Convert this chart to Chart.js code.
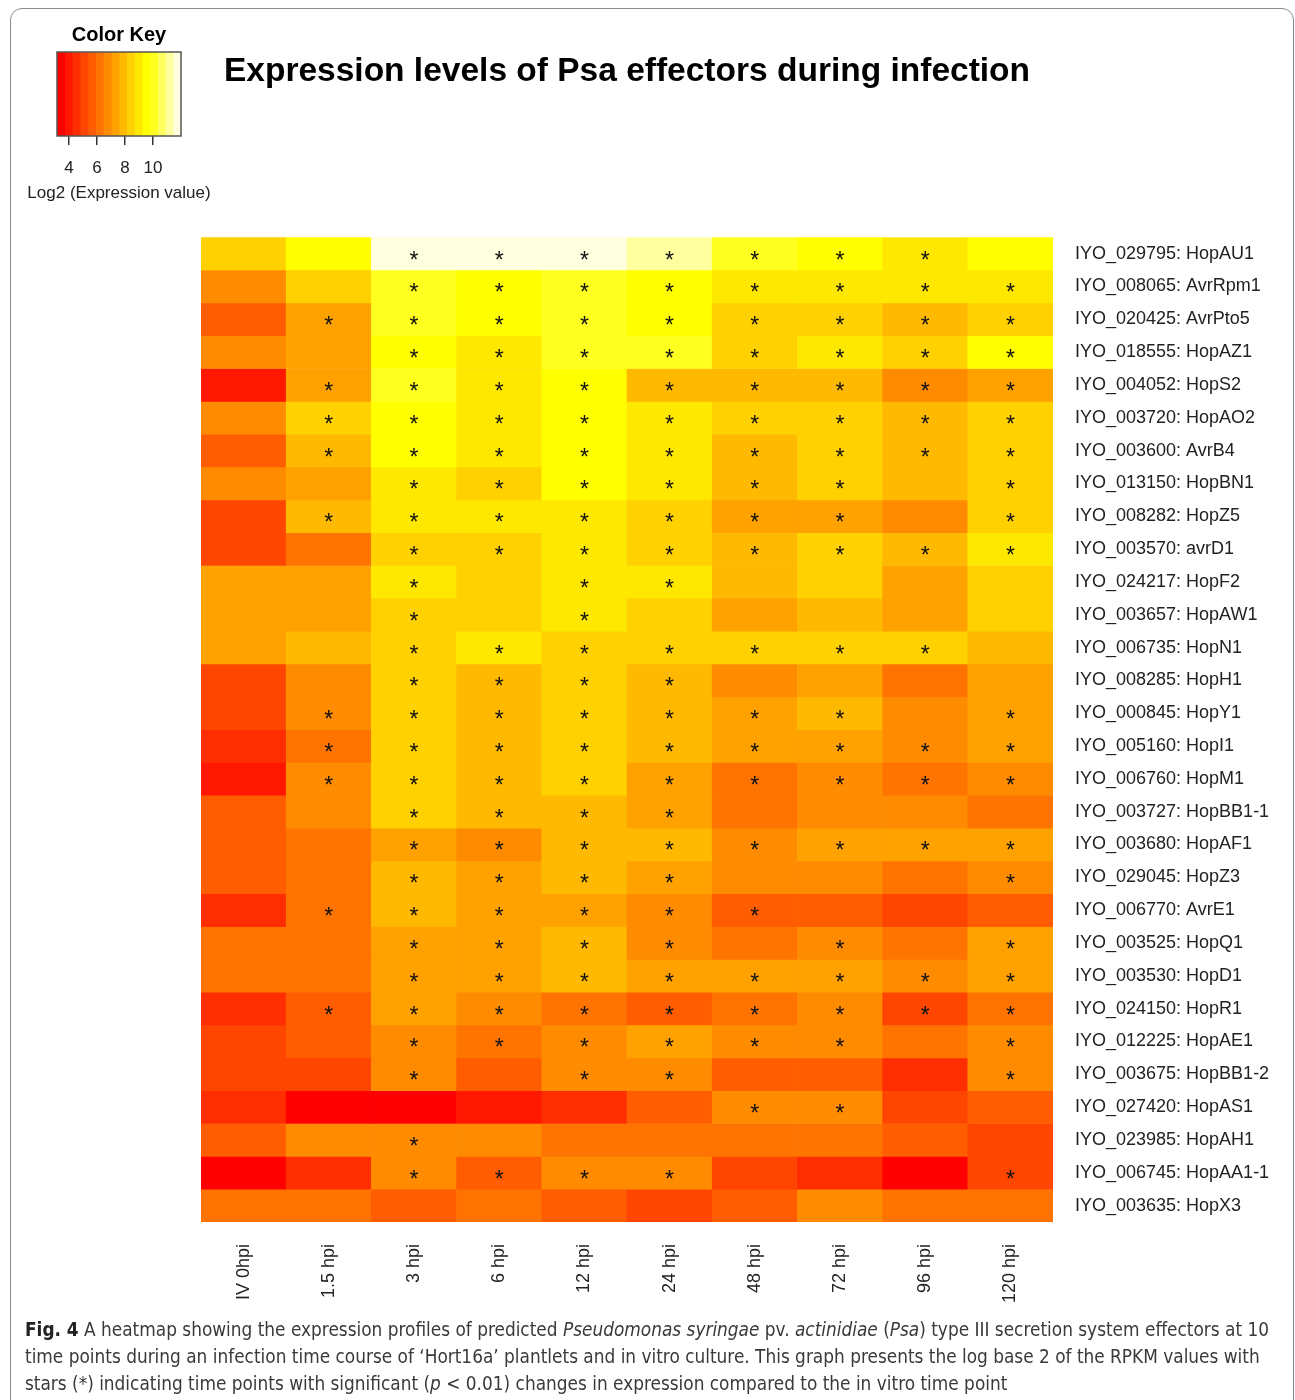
<!DOCTYPE html>
<html>
<head>
<meta charset="utf-8">
<title>Expression levels of Psa effectors during infection</title>
<script src="https://cdn.jsdelivr.net/npm/chart.js@4.4.1/dist/chart.umd.min.js"></script>
<style>
  html, body { margin: 0; padding: 0; background: #fff; }
  body { width: 1295px; height: 1400px; position: relative; overflow: hidden; }
  #frame { position: absolute; left: 10px; top: 8px; width: 1284px; height: 1440px;
           border: 1.5px solid #8c8c8c; border-radius: 12px; box-sizing: border-box; }
  #main { position: absolute; left: 0; top: 0; }
  #key { position: absolute; left: 0; top: 15px; }
  #caption { position: absolute; left: 25px; top: 1316px; color: #3a3a3a;
             font-family: "Liberation Sans Narrow", "DejaVu Sans Condensed", "Open Sans", sans-serif;
             font-size: 19px; line-height: 27px; white-space: nowrap; }
  #caption .line { display: block; transform-origin: 0 50%; }
  #caption b { font-weight: bold; color: #222; }
</style>
</head>
<body>
<div id="frame"></div>
<canvas id="main" width="1295" height="1320"></canvas>
<canvas id="key" width="238" height="200"></canvas>
<div id="caption">
  <span class="line"><b>Fig. 4</b> A heatmap showing the expression profiles of predicted <i>Pseudomonas syringae</i> pv. <i>actinidiae</i> (<i>Psa</i>) type III secretion system effectors at 10</span>
  <span class="line">time points during an infection time course of ‘Hort16a’ plantlets and in vitro culture. This graph presents the log base 2 of the RPKM values with</span>
  <span class="line">stars (*) indicating time points with significant (<i>p</i> &lt; 0.01) changes in expression compared to the in vitro time point</span>
</div>
<script>
// Sampling time points (columns)
const timeLabels = ['IV 0hpi', '1.5 hpi', '3 hpi', '6 hpi', '12 hpi', '24 hpi', '48 hpi', '72 hpi', '96 hpi', '120 hpi'];

// Effector genes (rows, top to bottom)
const effectorLabels = [
  'IYO_029795: HopAU1', 'IYO_008065: AvrRpm1', 'IYO_020425: AvrPto5', 'IYO_018555: HopAZ1',
  'IYO_004052: HopS2', 'IYO_003720: HopAO2', 'IYO_003600: AvrB4', 'IYO_013150: HopBN1',
  'IYO_008282: HopZ5', 'IYO_003570: avrD1', 'IYO_024217: HopF2', 'IYO_003657: HopAW1',
  'IYO_006735: HopN1', 'IYO_008285: HopH1', 'IYO_000845: HopY1', 'IYO_005160: HopI1',
  'IYO_006760: HopM1', 'IYO_003727: HopBB1-1', 'IYO_003680: HopAF1', 'IYO_029045: HopZ3',
  'IYO_006770: AvrE1', 'IYO_003525: HopQ1', 'IYO_003530: HopD1', 'IYO_024150: HopR1',
  'IYO_012225: HopAE1', 'IYO_003675: HopBB1-2', 'IYO_027420: HopAS1', 'IYO_023985: HopAH1',
  'IYO_006745: HopAA1-1', 'IYO_003635: HopX3'
];

// log2(RPKM) per effector, one value per time point
const log2Expr = [
  [8.4, 9.5, 11.7, 11.7, 11.7, 11.2, 10.1, 9.5, 9.0, 9.5],
  [6.7, 8.4, 10.1, 9.5, 10.1, 9.5, 9.0, 9.0, 9.0, 9.0],
  [5.6, 7.3, 10.1, 9.5, 10.1, 9.5, 8.4, 8.4, 7.9, 8.4],
  [6.7, 7.3, 9.5, 9.0, 10.1, 10.1, 8.4, 9.0, 8.4, 9.5],
  [4.0, 7.3, 10.1, 9.0, 9.5, 7.9, 7.9, 7.9, 6.7, 7.3],
  [6.7, 8.4, 9.5, 9.0, 9.5, 9.0, 8.4, 8.4, 7.9, 8.4],
  [5.6, 7.9, 9.5, 9.0, 9.5, 9.0, 7.9, 8.4, 7.9, 8.4],
  [6.7, 7.3, 9.0, 8.4, 9.5, 9.0, 7.9, 8.4, 7.9, 8.4],
  [5.1, 7.9, 9.0, 9.0, 9.0, 8.4, 7.3, 7.3, 6.7, 8.4],
  [5.1, 6.2, 8.4, 8.4, 9.0, 8.4, 7.9, 8.4, 7.9, 9.0],
  [7.3, 7.3, 9.0, 8.4, 9.0, 9.0, 7.9, 8.4, 7.3, 8.4],
  [7.3, 7.3, 8.4, 8.4, 9.0, 8.4, 7.3, 7.9, 7.3, 8.4],
  [7.3, 7.9, 8.4, 9.0, 8.4, 8.4, 8.4, 8.4, 8.4, 7.9],
  [5.1, 6.7, 8.4, 7.9, 8.4, 7.9, 6.7, 7.3, 6.2, 7.3],
  [5.1, 6.7, 8.4, 7.9, 8.4, 7.9, 7.3, 7.9, 6.7, 7.3],
  [4.5, 6.2, 8.4, 7.9, 8.4, 7.9, 7.3, 7.3, 6.7, 7.3],
  [4.0, 6.7, 8.4, 7.9, 8.4, 7.3, 6.2, 6.7, 6.2, 6.7],
  [5.6, 6.7, 8.4, 7.9, 7.9, 7.3, 6.2, 6.7, 6.7, 6.2],
  [5.6, 6.2, 7.3, 6.7, 7.9, 7.9, 6.7, 7.3, 7.3, 7.3],
  [5.6, 6.2, 7.9, 7.3, 7.9, 7.3, 6.7, 6.7, 6.2, 6.7],
  [4.5, 6.2, 7.9, 7.3, 7.3, 6.7, 5.6, 5.6, 5.1, 5.6],
  [6.2, 6.2, 7.3, 7.3, 7.9, 6.7, 6.2, 6.7, 6.2, 7.3],
  [6.2, 6.2, 7.3, 7.3, 7.9, 7.3, 7.3, 7.3, 6.7, 7.3],
  [4.5, 5.6, 7.3, 6.7, 6.2, 5.6, 6.2, 6.7, 5.1, 6.2],
  [5.1, 5.6, 6.7, 6.2, 6.7, 7.3, 6.7, 6.7, 6.2, 6.7],
  [5.1, 5.1, 6.7, 5.6, 6.7, 6.7, 5.6, 5.6, 4.5, 6.7],
  [4.5, 3.4, 3.4, 4.0, 4.5, 5.6, 6.7, 6.7, 5.1, 5.6],
  [5.6, 6.7, 6.7, 6.7, 6.2, 6.2, 6.2, 6.2, 5.6, 5.1],
  [3.4, 4.5, 6.7, 5.6, 6.7, 6.7, 5.1, 4.5, 3.4, 5.1],
  [6.2, 6.2, 5.6, 6.2, 5.6, 5.1, 5.6, 6.7, 6.2, 6.2]
];

// Time-point indices with a significant change (p < 0.01) versus the in vitro sample
const significant = [
  [2, 3, 4, 5, 6, 7, 8],
  [2, 3, 4, 5, 6, 7, 8, 9],
  [1, 2, 3, 4, 5, 6, 7, 8, 9],
  [2, 3, 4, 5, 6, 7, 8, 9],
  [1, 2, 3, 4, 5, 6, 7, 8, 9],
  [1, 2, 3, 4, 5, 6, 7, 8, 9],
  [1, 2, 3, 4, 5, 6, 7, 8, 9],
  [2, 3, 4, 5, 6, 7, 9],
  [1, 2, 3, 4, 5, 6, 7, 9],
  [2, 3, 4, 5, 6, 7, 8, 9],
  [2, 4, 5],
  [2, 4],
  [2, 3, 4, 5, 6, 7, 8],
  [2, 3, 4, 5],
  [1, 2, 3, 4, 5, 6, 7, 9],
  [1, 2, 3, 4, 5, 6, 7, 8, 9],
  [1, 2, 3, 4, 5, 6, 7, 8, 9],
  [2, 3, 4, 5],
  [2, 3, 4, 5, 6, 7, 8, 9],
  [2, 3, 4, 5, 9],
  [1, 2, 3, 4, 5, 6],
  [2, 3, 4, 5, 7, 9],
  [2, 3, 4, 5, 6, 7, 8, 9],
  [1, 2, 3, 4, 5, 6, 7, 8, 9],
  [2, 3, 4, 5, 6, 7, 9],
  [2, 4, 5, 9],
  [6, 7],
  [2],
  [2, 3, 4, 5, 9],
  []
];

// Colour key range and tick labels
const keyMin = 3.14;
const keyMax = 12.0;
const keyTicks = [4, 6, 8, 10];
const keyTitle = 'Log2 (Expression value)';
const nColors = 16;

const FONT = '"Liberation Sans", Arial, Helvetica, sans-serif';

// R-style heat.colors(n): red -> yellow hues, then pale yellows
function hsvToRgb(h, s, v) {
  const c = v * s, hp = h / 60, x = c * (1 - Math.abs(hp % 2 - 1)), m = v - c;
  let r = 0, g = 0, b = 0;
  if (hp < 1) { r = c; g = x; } else { r = x; g = c; }
  const f = t => Math.round((t + m) * 255);
  return `rgb(${f(r)},${f(g)},${f(b)})`;
}
function heatColors(n) {
  const j = Math.floor(n / 4), i = n - j, out = [];
  for (let k = 0; k < i; k++) out.push(hsvToRgb(60 * k / (i - 1), 1, 1));
  const s0 = 1 - 1 / (2 * j), s1 = 1 / (2 * j);
  for (let k = 0; k < j; k++) out.push(hsvToRgb(60, j === 1 ? s0 : s0 + (s1 - s0) * k / (j - 1), 1));
  return out;
}
const palette = heatColors(nColors);
const keyBreaks = Array.from({ length: nColors + 1 }, (_, i) => keyMin + i * (keyMax - keyMin) / nColors);
function colorFor(v) {
  let k = Math.floor((v - keyMin) / (keyMax - keyMin) * nColors);
  k = Math.max(0, Math.min(nColors - 1, k));
  return palette[k];
}

// ---- heatmap: one stacked bar series per effector row ----
const heatDatasets = effectorLabels.map((name, r) => ({
  label: name,
  data: timeLabels.map(() => 1),
  backgroundColor: log2Expr[r].map(colorFor),
  borderWidth: 0,
  barPercentage: 1,
  categoryPercentage: 1
}));

const starPlugin = {
  id: 'sigStars',
  afterDatasetsDraw(chart) {
    const { ctx, scales: { x, y } } = chart;
    ctx.save();
    ctx.font = '23px ' + FONT;
    ctx.fillStyle = '#111';
    ctx.textAlign = 'center';
    ctx.textBaseline = 'alphabetic';
    const m = ctx.measureText('*');
    const shift = (m.actualBoundingBoxAscent - m.actualBoundingBoxDescent) / 2;
    significant.forEach((cols, r) => {
      cols.forEach(c => {
        const cx = x.getPixelForValue(c);
        const cy = y.getPixelForValue(r + 0.5);
        ctx.fillText('*', cx, cy + shift + 1.5);
      });
    });
    ctx.restore();
  }
};

new Chart(document.getElementById('main'), {
  type: 'bar',
  data: { labels: timeLabels, datasets: heatDatasets },
  options: {
    responsive: false,
    animation: false,
    layout: { padding: { left: 201, right: 0, top: 0, bottom: 18 } },
    plugins: {
      legend: { display: false },
      tooltip: { enabled: false },
      title: {
        display: true,
        fullSize: false,
        text: 'Expression levels of Psa effectors during infection',
        color: '#000',
        font: { family: FONT, size: 33.5, weight: 'bold' },
        padding: { top: 52, bottom: 145 }
      }
    },
    scales: {
      x: {
        stacked: true,
        grid: { display: false, drawTicks: false },
        border: { display: false },
        ticks: { minRotation: 90, maxRotation: 90, autoSkip: false, padding: 22,
                 color: '#222', font: { family: FONT, size: 18 } },
        afterFit(s) { s.height = 80; }
      },
      y: {
        stacked: true,
        position: 'right',
        min: 0,
        max: effectorLabels.length,
        reverse: true,
        grid: { display: false, drawTicks: false },
        border: { display: false },
        afterBuildTicks(s) { s.ticks = effectorLabels.map((_, i) => ({ value: i + 0.5 })); },
        ticks: { autoSkip: false, padding: 22, color: '#222', font: { family: FONT, size: 18 },
                 callback: v => effectorLabels[Math.floor(v)] },
        afterFit(s) { s.width = 242; }
      }
    }
  },
  plugins: [starPlugin]
});

// ---- colour key ----
const keyDecor = {
  id: 'keyDecor',
  afterDatasetsDraw(chart) {
    const { ctx, chartArea: a } = chart;
    ctx.save();
    ctx.strokeStyle = '#555';
    ctx.lineWidth = 1.5;
    ctx.strokeRect(a.left, a.top, a.right - a.left, a.bottom - a.top);
    ctx.restore();
  },
  afterDraw(chart) {
    // axis caption below the key, allowed to be wider than the key itself
    const { ctx, chartArea: a } = chart;
    ctx.save();
    ctx.font = '17px ' + FONT;
    ctx.fillStyle = '#222';
    ctx.textAlign = 'center';
    ctx.textBaseline = 'middle';
    ctx.fillText(keyTitle, (a.left + a.right) / 2, a.bottom + 57);
    ctx.restore();
  }
};

new Chart(document.getElementById('key'), {
  type: 'bar',
  data: {
    labels: ['key'],
    datasets: palette.map((c, i) => ({
      data: [[keyBreaks[i], keyBreaks[i + 1]]],
      backgroundColor: c,
      borderWidth: 0,
      grouped: false,
      barPercentage: 1,
      categoryPercentage: 1
    }))
  },
  options: {
    indexAxis: 'y',
    responsive: false,
    animation: false,
    layout: { padding: { left: 57, right: 57, top: 0, bottom: 9 } },
    plugins: {
      legend: { display: false },
      tooltip: { enabled: false },
      title: { display: true, text: 'Color Key', color: '#000',
               font: { family: FONT, size: 20, weight: 'bold' }, padding: { top: 8, bottom: 5 } }
    },
    scales: {
      y: { display: false },
      x: {
        type: 'linear',
        min: keyMin,
        max: keyMax,
        afterBuildTicks(s) { s.ticks = keyTicks.map(v => ({ value: v })); },
        grid: { drawOnChartArea: false, drawTicks: true, tickLength: 9, color: '#333', lineWidth: 1.5 },
        border: { display: false },
        ticks: { padding: 13, color: '#222', font: { family: FONT, size: 17 } },
        afterFit(s) { s.height = 70; }
      }
    }
  },
  plugins: [keyDecor]
});

// Fit the caption lines to the figure width
(function () {
  const lines = document.querySelectorAll('#caption .line');
  const targets = [1238, 1250];
  const w1 = lines[0].getBoundingClientRect().width;
  const w2 = lines[1].getBoundingClientRect().width;
  const sx = (targets[0] / w1 + targets[1] / w2) / 2;
  lines.forEach(l => { l.style.transform = `scaleX(${sx})`; });
})();
</script>
</body>
</html>
